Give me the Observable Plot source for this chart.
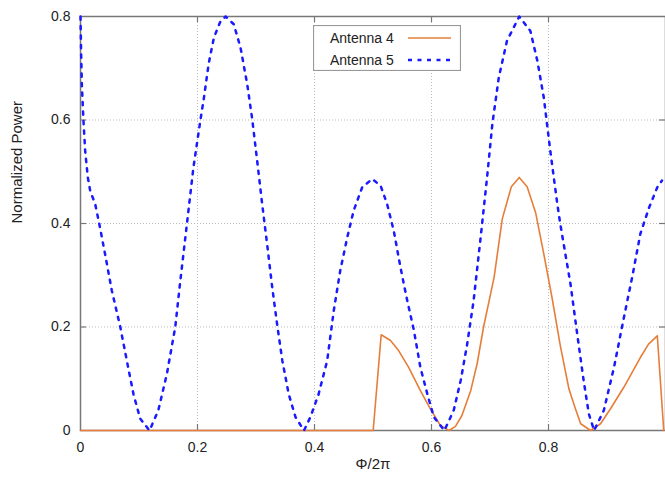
<!DOCTYPE html>
<html><head><meta charset="utf-8">
<script src="https://cdn.jsdelivr.net/npm/d3@7"></script>
<script src="https://cdn.jsdelivr.net/npm/@observablehq/plot@0.6"></script>
<style>
body{margin:0;background:#fff;font-family:"Liberation Sans",Arial,sans-serif;}
#wrap{position:relative;width:665px;height:479px;overflow:hidden;}
#legend{position:absolute;left:313px;top:25px;}
</style></head><body><div id="wrap"></div><script>
const xTicks = [0, 0.2, 0.4, 0.6, 0.8];
const xTickMarks = [0.2, 0.4, 0.6, 0.8];
const yTicks = [0, 0.2, 0.4, 0.6, 0.8];
const yTickMarks = [0.2, 0.4, 0.6];
const seriesNames = ["Antenna 4", "Antenna 5"];

const ant4X = [0, 0.5003, 0.514, 0.53, 0.544, 0.561, 0.581, 0.598, 0.615, 0.63, 0.641, 0.652, 0.667, 0.678, 0.689, 0.707, 0.721, 0.7365, 0.75, 0.7635, 0.778, 0.792, 0.806, 0.82, 0.835, 0.846, 0.855, 0.872, 0.889, 0.906, 0.929, 0.957, 0.971, 0.986, 0.997];
const ant4Y = [0, 0, 0.185, 0.174, 0.154, 0.122, 0.077, 0.042, 0.01, 0, 0.008, 0.029, 0.077, 0.129, 0.2, 0.296, 0.409, 0.471, 0.489, 0.471, 0.421, 0.341, 0.257, 0.165, 0.08, 0.042, 0.013, 0, 0.013, 0.042, 0.084, 0.141, 0.167, 0.183, 0];

const ant5X = [0, 0.001, 0.0023, 0.005, 0.008, 0.0125, 0.0166, 0.025, 0.032, 0.042, 0.0536, 0.068, 0.0792, 0.0906, 0.102, 0.118, 0.133, 0.1476, 0.162, 0.170, 0.182, 0.193, 0.205, 0.211, 0.219, 0.228, 0.239, 0.248, 0.262, 0.2735, 0.285, 0.2935, 0.302, 0.3105, 0.319, 0.3277, 0.336, 0.345, 0.356, 0.3675, 0.382, 0.393, 0.407, 0.4217, 0.433, 0.444, 0.456, 0.467, 0.4815, 0.4986, 0.513, 0.524, 0.5355, 0.547, 0.5585, 0.57, 0.581, 0.593, 0.604, 0.622, 0.638, 0.65, 0.661, 0.672, 0.684, 0.695, 0.704, 0.715, 0.729, 0.75, 0.769, 0.781, 0.792, 0.803, 0.815, 0.82, 0.8376, 0.849, 0.86, 0.869, 0.878, 0.8946, 0.912, 0.929, 0.943, 0.957, 0.972, 0.986, 0.994];
const ant5Y = [0.8, 0.734, 0.669, 0.6, 0.54, 0.489, 0.463, 0.438, 0.4, 0.341, 0.27, 0.2, 0.135, 0.07, 0.023, 0, 0.039, 0.109, 0.2, 0.283, 0.4, 0.508, 0.6, 0.643, 0.708, 0.759, 0.79, 0.8, 0.785, 0.74, 0.669, 0.602, 0.521, 0.438, 0.36, 0.277, 0.206, 0.135, 0.07, 0.026, 0, 0.026, 0.07, 0.135, 0.232, 0.309, 0.373, 0.425, 0.47, 0.486, 0.473, 0.438, 0.386, 0.315, 0.251, 0.193, 0.122, 0.07, 0.026, 0, 0.039, 0.097, 0.167, 0.251, 0.373, 0.489, 0.592, 0.682, 0.753, 0.8, 0.772, 0.714, 0.643, 0.541, 0.438, 0.4, 0.283, 0.187, 0.097, 0.032, 0, 0.039, 0.122, 0.219, 0.296, 0.38, 0.431, 0.47, 0.483];

const ant4 = ant4X.map((x, i) => ({x, y: ant4Y[i]}));
const ant5 = ant5X.map((x, i) => ({x, y: ant5Y[i]}));

const orange = "#e67e3a";
const blue = "#1a1aff";
const frameColor = "#777";
const fmt = d => d === 0 ? "0" : String(d);

const chart = Plot.plot({
  width: 665,
  height: 479,
  marginLeft: 80,
  marginRight: 0,
  marginTop: 16,
  marginBottom: 49,
  style: {fontFamily: "'Liberation Sans', Arial, sans-serif", fontSize: "14px", color: "#222", background: "#fff"},
  x: {domain: [0, 1]},
  y: {domain: [0, 0.8]},
  marks: [
    Plot.gridX(xTickMarks, {stroke: "#bbb", strokeOpacity: 1, strokeDasharray: "1,2"}),
    Plot.gridY(yTickMarks, {stroke: "#bbb", strokeOpacity: 1, strokeDasharray: "1,2"}),
    Plot.frame({stroke: frameColor, strokeWidth: 1.5}),
    Plot.tickX(xTickMarks, {x: d => d, insetTop: 408, stroke: frameColor, strokeWidth: 1.2}),
    Plot.tickX(xTickMarks, {x: d => d, insetBottom: 408, stroke: frameColor, strokeWidth: 1.2}),
    Plot.tickY(yTickMarks, {y: d => d, insetRight: 579, stroke: frameColor, strokeWidth: 1.2}),
    Plot.tickY(yTickMarks, {y: d => d, insetLeft: 579, stroke: frameColor, strokeWidth: 1.2}),
    Plot.axisX(xTicks, {tickSize: 0, tickPadding: 12, tickFormat: fmt, label: null, fontSize: 14}),
    Plot.axisY(yTicks, {tickSize: 0, tickPadding: 10, tickFormat: fmt, label: null, fontSize: 14}),
    Plot.text(["Φ/2π"], {frameAnchor: "bottom", dy: 38, fontSize: 15, fill: "#222"}),
    Plot.text(["Normalized Power"], {frameAnchor: "left", dx: -63, rotate: -90, fontSize: 15, fill: "#222"}),
    Plot.line(ant4, {x: "x", y: "y", stroke: orange, strokeWidth: 1.6}),
    Plot.line(ant5, {x: "x", y: "y", stroke: blue, strokeWidth: 2.5, strokeDasharray: "3.3,6.2"})
  ]
});

const wrap = document.getElementById("wrap");
wrap.appendChild(chart);

const legend = document.createElement("div");
legend.id = "legend";
const styles = [{stroke: orange, width: 1.6, dash: null}, {stroke: blue, width: 2.5, dash: "4,5.5"}];
legend.innerHTML = `<svg width="148" height="46" xmlns="http://www.w3.org/2000/svg" style="font-family:'Liberation Sans',Arial,sans-serif;font-size:14px">
<rect x="0.5" y="0.5" width="147" height="45" fill="#fff" stroke="#999" stroke-width="1.2"/>
${seriesNames.map((n, i) => `<text x="17" y="${13 + i * 22}" dominant-baseline="central" fill="#222">${n}</text>
<line x1="95" x2="138" y1="${13 + i * 22}" y2="${13 + i * 22}" stroke="${styles[i].stroke}" stroke-width="${styles[i].width}" ${styles[i].dash ? `stroke-dasharray="${styles[i].dash}"` : ""}/>`).join("")}
</svg>`;
wrap.appendChild(legend);
</script></body></html>
